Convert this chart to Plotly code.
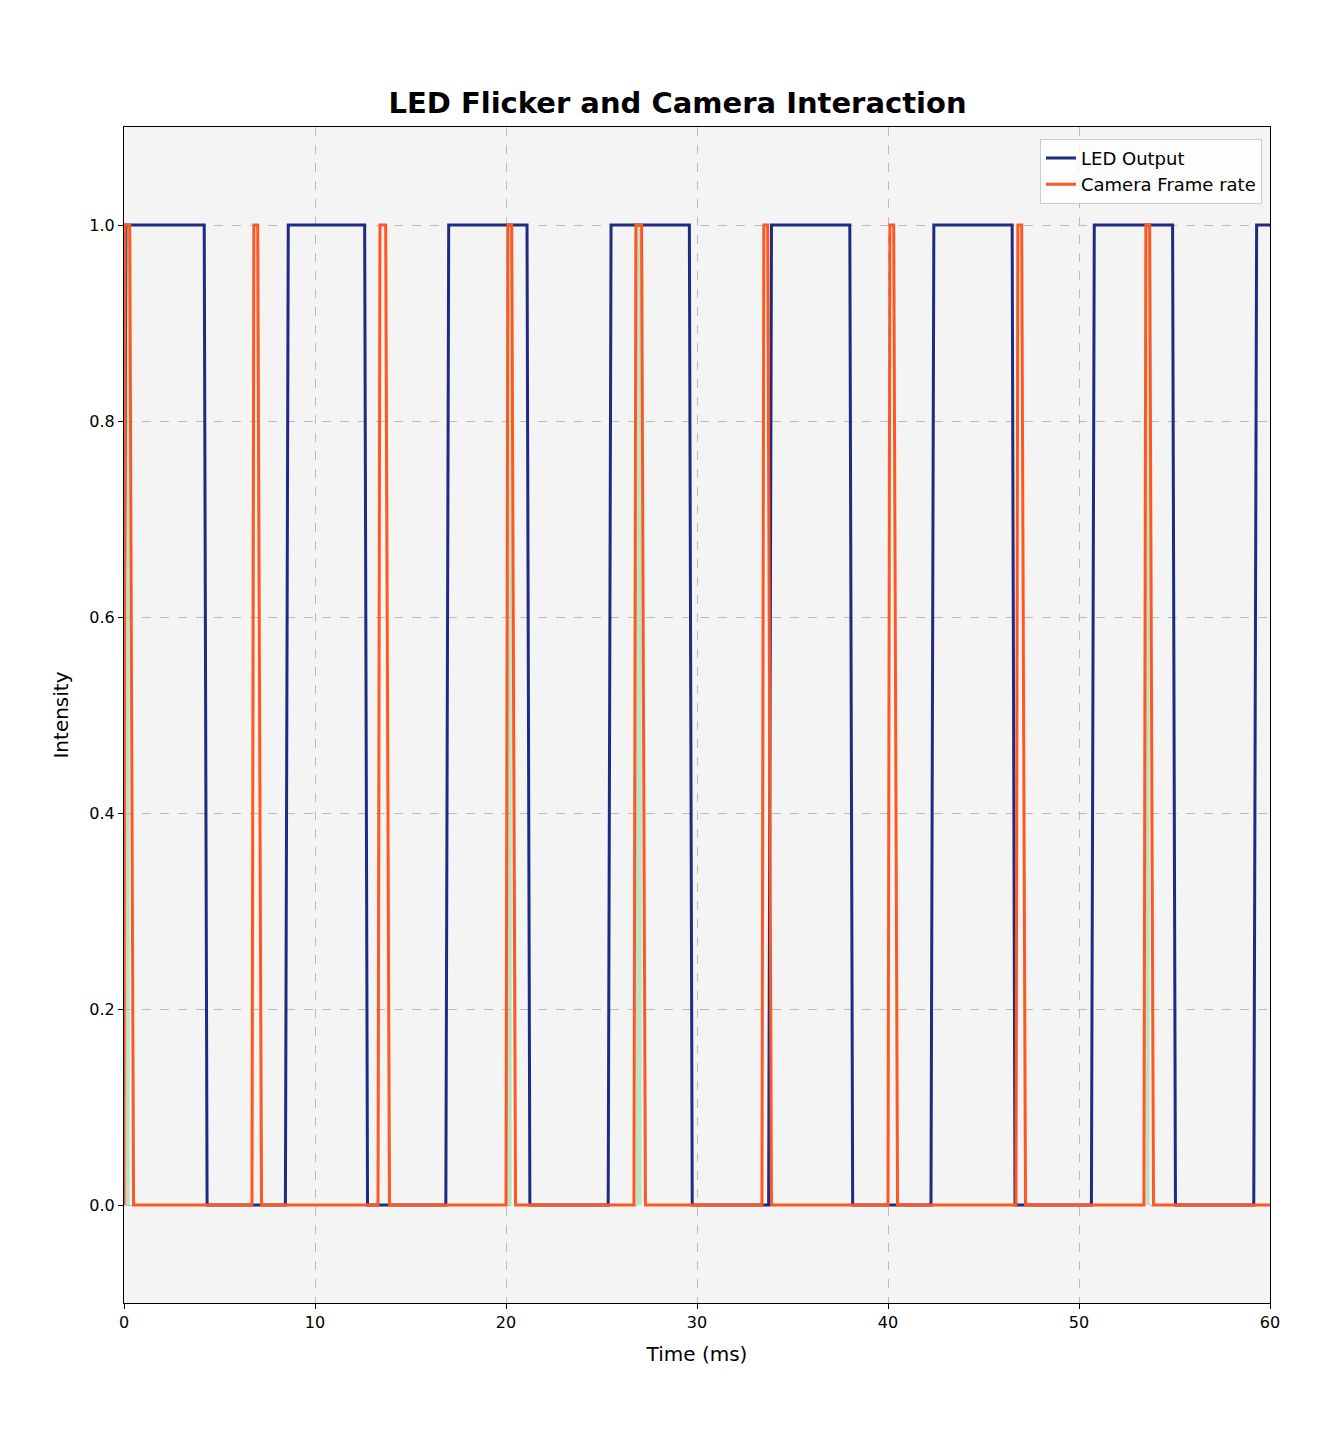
import plotly.graph_objects as go

# LED on intervals (ms)
led_on = [(0.1, 4.2), (8.6, 12.6), (17.0, 21.1), (25.5, 29.6), (33.9, 38.0),
          (42.4, 46.5), (50.8, 54.9), (59.3, 60.0)]
# camera exposure pulses: (rise start, top start, top end, fall end)
cam_pulses = [(0.0, 0.05, 0.3, 0.5), (6.7, 6.8, 7.0, 7.2), (13.3, 13.4, 13.7, 13.9),
              (20.0, 20.1, 20.3, 20.5), (26.7, 26.8, 27.1, 27.3), (33.4, 33.5, 33.7, 33.9),
              (40.0, 40.1, 40.3, 40.5), (46.7, 46.8, 47.0, 47.2), (53.4, 53.5, 53.7, 53.9)]
# regions where both are high
overlap = [(0.05, 0.3), (20.0, 20.3), (26.8, 27.1), (53.5, 53.7)]

led_x, led_y = [0.0], [0.5]
for a, b in led_on:
    if a > 0.5:
        led_x.append(a - 0.15)
        led_y.append(0)
    led_x += [a, b]
    led_y += [1, 1]
    if b < 60:
        led_x.append(b + 0.15)
        led_y.append(0)

cam_x, cam_y = [0.0], [0.0]
for r0, t0, t1, f1 in cam_pulses:
    cam_x += [r0, t0, t1, f1]
    cam_y += [0, 1, 1, 0]
cam_x.append(60)
cam_y.append(0)

fig = go.Figure()
for a, b in overlap:
    fig.add_trace(go.Scatter(x=[a, a, b, b], y=[0, 1, 1, 0], fill='toself', mode='none',
                             fillcolor='rgba(144,214,160,0.55)', showlegend=False, hoverinfo='skip'))
fig.add_trace(go.Scatter(x=led_x, y=led_y, mode='lines', name='LED Output',
                         line=dict(color='#1f2a80', width=3)))
fig.add_trace(go.Scatter(x=cam_x, y=cam_y, mode='lines', name='Camera Frame rate',
                         line=dict(color='#ff5722', width=3)))

ax = dict(showline=True, linecolor='black', linewidth=1, mirror=True, ticks='outside',
          ticklen=5, tickcolor='black', showgrid=True, gridcolor='#bbbbbb', griddash='dash',
          zeroline=False, tickfont=dict(size=16, color='black'))
fig.update_layout(
    width=1339, height=1456,
    margin=dict(l=116, r=77, t=119, b=161),
    paper_bgcolor='white', plot_bgcolor='#f4f4f4',
    font=dict(family='DejaVu Sans', color='black'),
    title=dict(text='<b>LED Flicker and Camera Interaction</b>', x=0.5, xanchor='center',
               y=0.935, yanchor='middle', font=dict(size=29)),
    xaxis=dict(ax, range=[0, 60], dtick=10, title=dict(text='Time (ms)', font=dict(size=20))),
    yaxis=dict(ax, range=[-0.1, 1.1], dtick=0.2, tickformat='.1f',
               title=dict(text='Intensity', font=dict(size=20))),
    legend=dict(x=0.993, y=0.99, xanchor='right', yanchor='top', bgcolor='rgba(255,255,255,0.8)',
                bordercolor='#cccccc', borderwidth=1, font=dict(size=18)),
)
fig.write_html("out.html")
